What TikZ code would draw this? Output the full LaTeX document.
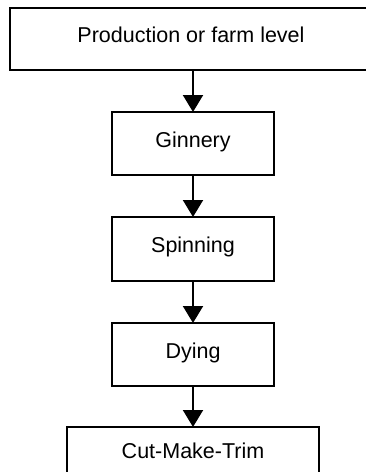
\documentclass[tikz,border=0pt]{standalone}
\usepackage{fontspec}
\setmainfont{Liberation Sans}
\usetikzlibrary{arrows.meta}
\begin{document}
\begin{tikzpicture}[x=1pt,y=-1pt,
  stagebox/.style={draw=black,line width=2pt,fill=white,inner sep=0pt,
    font=\fontsize{21.5}{25}\selectfont,text height=0.72em,text depth=0pt},
  flow/.style={line width=2pt,-{Triangle[width=20pt,length=17pt]},shorten >=-1pt}]
\clip (0,0) rectangle (366,472);
\fill[white] (0,0) rectangle (366,472);
\node[stagebox,minimum width=362pt,minimum height=62pt] (farm) at (191,39) {Production or farm level};
\node[stagebox,minimum width=162pt,minimum height=63pt] (gin) at (193,143.5) {Ginnery};
\node[stagebox,minimum width=162pt,minimum height=64pt] (spin) at (193,249) {Spinning};
\node[stagebox,minimum width=162pt,minimum height=63pt] (dye) at (193,354.5) {Dying};
\node[stagebox,minimum width=252pt,minimum height=56pt] (cmt) at (193,455) {Cut-Make-Trim};
\draw[flow] (farm.south -| gin.north) -- (gin.north);
\draw[flow] (gin.south) -- (spin.north);
\draw[flow] (spin.south) -- (dye.north);
\draw[flow] (dye.south) -- (dye.south |- cmt.north);
\end{tikzpicture}
\end{document}
